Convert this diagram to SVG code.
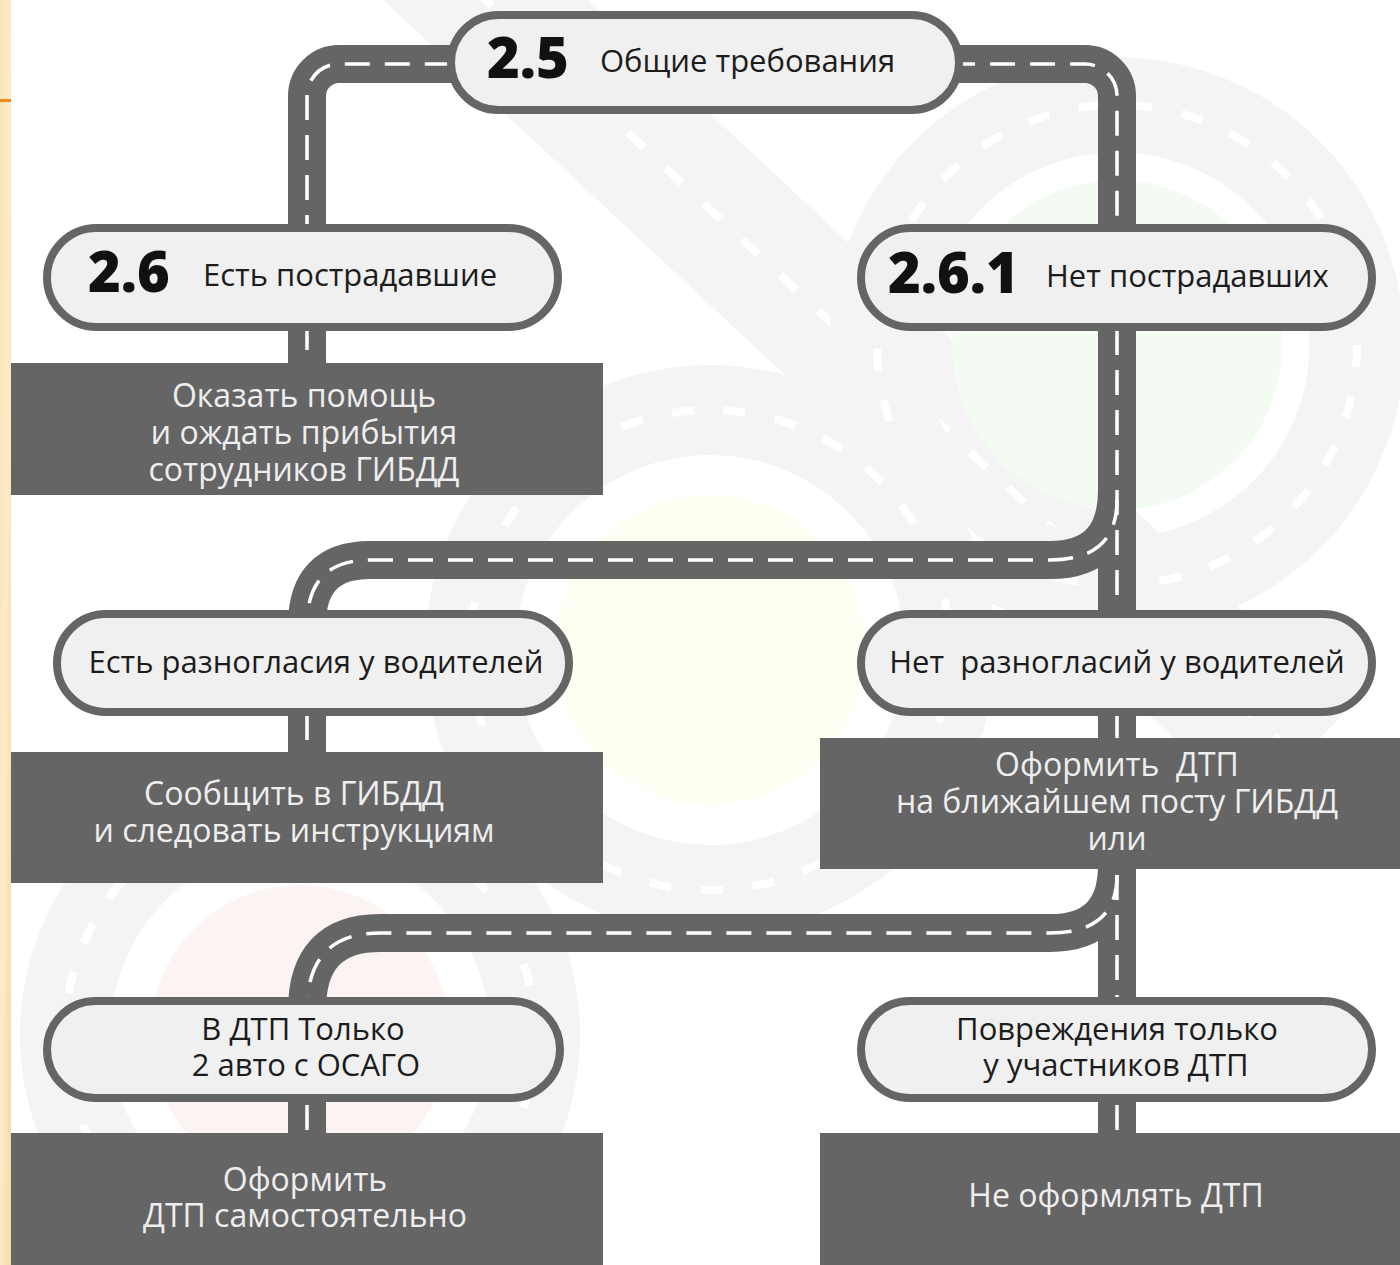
<svg xmlns="http://www.w3.org/2000/svg" width="1400" height="1265" viewBox="0 0 1400 1265">
<defs>
<linearGradient id="stripe" x1="0" y1="0" x2="1" y2="1">
<stop offset="0" stop-color="#f8e3b8"/>
<stop offset="0.5" stop-color="#fbecc8"/>
<stop offset="1" stop-color="#f3d9a6"/>
</linearGradient>
<style>
.road{fill:none;stroke:#656565;stroke-width:38}
.dash{fill:none;stroke:#ffffff;stroke-width:3.5;stroke-dasharray:25 15}
.pill{fill:#f0f0f0;stroke:#656565;stroke-width:8}
.box{fill:#656565}
.t{font-family:"Open Sans","Noto Sans","DejaVu Sans",sans-serif;font-size:31px;fill:#1c1c1c}
.num{font-family:"Open Sans","Noto Sans","DejaVu Sans",sans-serif;font-size:56px;font-weight:800;fill:#111}
.bt{font-family:"Open Sans","Noto Sans","DejaVu Sans",sans-serif;font-size:32px;fill:#eeeeee;text-anchor:middle}
.c{text-anchor:middle}
.wm{fill:none;stroke:#f4f4f4}
.wmd{fill:none;stroke:#ffffff;stroke-width:8;stroke-dasharray:22 30}
</style>
</defs>
<rect width="1400" height="1265" fill="#ffffff"/>
<!-- background watermark -->
<g id="watermark">
<path class="wm" d="M 400,-80 L 1300,760" stroke-width="140"/>
<path class="wmd" d="M 400,-80 L 1300,760"/>
<circle cx="1117" cy="345" r="240" class="wm" stroke-width="95"/>
<circle cx="1117" cy="345" r="240" class="wmd" stroke-dasharray="24 34"/>
<circle cx="1117" cy="345" r="165" fill="#f3fbf3"/>
<circle cx="710" cy="650" r="240" class="wm" stroke-width="90"/>
<circle cx="710" cy="650" r="240" class="wmd" stroke-dasharray="24 34"/>
<circle cx="710" cy="650" r="155" fill="#fffff4"/>
<circle cx="300" cy="1035" r="235" class="wm" stroke-width="90"/>
<circle cx="300" cy="1035" r="235" class="wmd" stroke-dasharray="24 34"/>
<circle cx="300" cy="1035" r="150" fill="#fcf3f3"/>
</g>
<!-- left stripe -->
<rect x="0" y="0" width="11" height="1265" fill="url(#stripe)"/>
<rect x="0" y="99" width="11" height="3" fill="#ef8a1c"/>
<!-- connectors -->
<g id="connectors">
<path class="road" d="M 307,240 L 307,96 A 32 32 0 0 1 339,64 L 460,64"/>
<path class="road" d="M 950,64 L 1085,64 A 32 32 0 0 1 1117,96 L 1117,240"/>
<path class="road" d="M 307,320 L 307,370"/>
<path class="road" d="M 1117,320 L 1117,620"/>
<path class="road" d="M 1117,705 L 1117,745"/>
<path class="road" d="M 307,705 L 307,760"/>
<path class="road" d="M 1117,860 L 1117,1005"/>
<path class="road" d="M 307,1095 L 307,1140"/>
<path class="road" d="M 1117,1095 L 1117,1140"/>
<path class="road" d="M 1117,490 Q 1117,560 1050,560 L 370,560 Q 307,560 307,625"/>
<path class="road" d="M 1117,865 Q 1117,933 1050,933 L 380,933 Q 307,933 307,1010"/>
<path class="dash" d="M 307,240 L 307,96 A 32 32 0 0 1 339,64 L 460,64"/>
<path class="dash" d="M 950,64 L 1085,64 A 32 32 0 0 1 1117,96 L 1117,240"/>
<path class="dash" d="M 307,325 L 307,365"/>
<path class="dash" d="M 1117,330 L 1117,620"/>
<path class="dash" d="M 1117,715 L 1117,740"/>
<path class="dash" d="M 307,715 L 307,755"/>
<path class="dash" d="M 1117,875 L 1117,1005"/>
<path class="dash" d="M 307,1105 L 307,1135"/>
<path class="dash" d="M 1117,1105 L 1117,1135"/>
<path class="dash" d="M 1117,500 Q 1117,560 1050,560 L 370,560 Q 307,560 307,625"/>
<path class="dash" d="M 1117,875 Q 1117,933 1050,933 L 380,933 Q 307,933 307,1010"/>
</g>
<!-- nodes -->
<g id="n25">
<rect class="pill" x="451" y="15" width="508" height="95" rx="47.5"/>
<text class="num" x="487" y="78">2.5</text>
<text class="t" x="600" y="72">Общие требования</text>
</g>
<g id="n26">
<rect class="pill" x="47" y="228" width="511" height="99" rx="49.5"/>
<text class="num" x="88" y="292">2.6</text>
<text class="t" x="203" y="286">Есть пострадавшие</text>
</g>
<g id="n261">
<rect class="pill" x="861" y="228" width="511" height="99" rx="49.5"/>
<text class="num" x="888" y="293">2.6.1</text>
<text class="t" x="1046" y="287">Нет пострадавших</text>
</g>
<g id="b1">
<rect class="box" x="11" y="363" width="592" height="132"/>
<text class="bt" x="304" y="407">Оказать помощь</text>
<text class="bt" x="304" y="444">и ождать прибытия</text>
<text class="bt" x="304" y="481">сотрудников ГИБДД</text>
</g>
<g id="n-yes-dispute">
<rect class="pill" x="57" y="614" width="512" height="98" rx="49"/>
<text class="t c" x="316" y="673">Есть разногласия у водителей</text>
</g>
<g id="n-no-dispute">
<rect class="pill" x="861" y="614" width="511" height="98" rx="49"/>
<text class="t c" x="1117" y="673" xml:space="preserve">Нет  разногласий у водителей</text>
</g>
<g id="b2">
<rect class="box" x="11" y="752" width="592" height="131"/>
<text class="bt" x="294" y="805">Сообщить в ГИБДД</text>
<text class="bt" x="294" y="842">и следовать инструкциям</text>
</g>
<g id="b3">
<rect class="box" x="820" y="738" width="580" height="131"/>
<text class="bt" x="1117" y="776" xml:space="preserve">Оформить  ДТП</text>
<text class="bt" x="1117" y="813">на ближайшем посту ГИБДД</text>
<text class="bt" x="1117" y="850">или</text>
</g>
<g id="n-osago">
<rect class="pill" x="47" y="1001" width="513" height="97" rx="48.5"/>
<text class="t c" x="303" y="1040">В ДТП Только</text>
<text class="t c" x="306" y="1076">2 авто с ОСАГО</text>
</g>
<g id="n-damage">
<rect class="pill" x="861" y="1001" width="511" height="97" rx="48.5"/>
<text class="t c" x="1117" y="1040">Повреждения только</text>
<text class="t c" x="1116" y="1076">у участников ДТП</text>
</g>
<g id="b4">
<rect class="box" x="11" y="1133" width="592" height="132"/>
<text class="bt" x="305" y="1191">Оформить</text>
<text class="bt" x="305" y="1227">ДТП самостоятельно</text>
</g>
<g id="b5">
<rect class="box" x="820" y="1133" width="580" height="132"/>
<text class="bt" x="1116" y="1207">Не оформлять ДТП</text>
</g>
</svg>
